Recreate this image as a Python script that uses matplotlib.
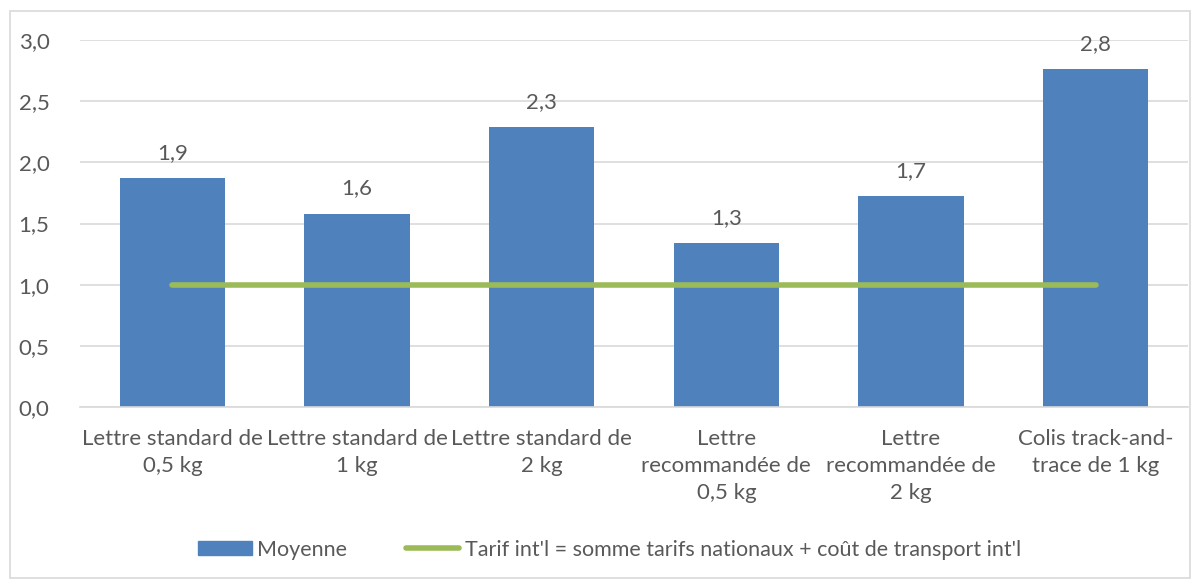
import matplotlib
matplotlib.use("Agg")
import matplotlib.pyplot as plt
from matplotlib.patches import Rectangle, Patch
from matplotlib.lines import Line2D

categories = ["Lettre standard de\n0,5 kg", "Lettre standard de\n1 kg", "Lettre standard de\n2 kg",
              "Lettre\nrecommandée de\n0,5 kg", "Lettre\nrecommandée de\n2 kg", "Colis track-and-\ntrace de 1 kg"]
moyenne = [1.87, 1.58, 2.29, 1.34, 1.725, 2.76]
labels = ["1,9", "1,6", "2,3", "1,3", "1,7", "2,8"]
reference = [1.0] * 6
yticks = [0.0, 0.5, 1.0, 1.5, 2.0, 2.5, 3.0]
ytick_labels = ["0,0", "0,5", "1,0", "1,5", "2,0", "2,5", "3,0"]

plt.rcParams['font.family'] = ['Lato', 'DejaVu Sans']
txt = '#595959'
blue = '#4F81BD'
green = '#9BBB59'
grid = '#D9D9D9'
fs = 16

fig = plt.figure(figsize=(12, 5.8), dpi=100)
ax = fig.add_axes([0.0667, 0.298, 0.9233, 0.633])

x = list(range(len(categories)))
ax.bar(x, moyenne, width=0.57, color=blue, zorder=2)
ax.plot(x, reference, color=green, linewidth=4, solid_capstyle='round', zorder=3)
for xi, v, l in zip(x, moyenne, labels):
    ax.annotate(l, (xi, v), xytext=(0, 11), textcoords='offset points', ha='center', va='bottom',
                fontsize=fs, color=txt)

ax.set_xlim(-0.5, len(categories) - 0.5)
ax.set_ylim(0, 3.0)
ax.set_yticks(yticks)
ax.set_yticklabels(ytick_labels, fontsize=fs, color=txt)
ax.set_xticks(x)
ax.set_xticklabels(categories, fontsize=fs, color=txt, linespacing=1.42)
ax.tick_params(axis='both', length=0)
ax.tick_params(axis='y', pad=22)
ax.tick_params(axis='x', pad=16)
ax.grid(axis='y', color=grid, linewidth=1.2, zorder=0)
for s in ['top', 'right', 'left']:
    ax.spines[s].set_visible(False)
ax.spines['bottom'].set_color(grid)
ax.spines['bottom'].set_linewidth(1.2)

handles = [Patch(facecolor=blue, edgecolor=blue),
           Line2D([0], [0], color=green, linewidth=4, solid_capstyle='round')]
fig.legend(handles, ["Moyenne", "Tarif int'l = somme tarifs nationaux + coût de transport int'l"],
           loc='center', bbox_to_anchor=(0.508, 0.052), ncol=2, frameon=False,
           fontsize=15.5, labelcolor=txt, handlelength=2.5, handleheight=0.65,
           handletextpad=0.25, columnspacing=2.7)

fig.patches.append(Rectangle((0.008, 0.003), 0.984, 0.978, transform=fig.transFigure,
                             fill=False, edgecolor=grid, linewidth=1.2))

fig.savefig("out.png", dpi=100)
